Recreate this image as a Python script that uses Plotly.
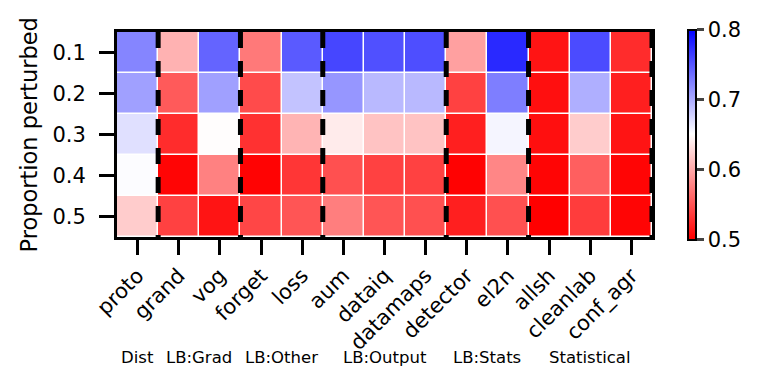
import plotly.graph_objects as go

# methods along x, perturbation proportion along y
methods = ["proto", "grand", "vog", "forget", "loss", "aum", "dataiq", "datamaps",
           "detector", "el2n", "allsh", "cleanlab", "conf_agr"]
proportions = ["0.1", "0.2", "0.3", "0.4", "0.5"]

# method groups and how many methods each covers (in order)
groups = ["Dist", "LB:Grad", "LB:Other", "LB:Output", "LB:Stats", "Statistical"]
group_sizes = [1, 2, 2, 3, 2, 3]

row_01 = [0.722, 0.605, 0.741, 0.571, 0.747, 0.759, 0.753, 0.754, 0.594, 0.776, 0.512, 0.756, 0.526]
row_02 = [0.706, 0.553, 0.706, 0.544, 0.685, 0.712, 0.691, 0.691, 0.538, 0.726, 0.509, 0.697, 0.518]
row_03 = [0.668, 0.526, 0.649, 0.529, 0.606, 0.638, 0.615, 0.615, 0.518, 0.656, 0.509, 0.620, 0.512]
row_04 = [0.652, 0.503, 0.576, 0.502, 0.532, 0.547, 0.538, 0.538, 0.501, 0.579, 0.503, 0.556, 0.503]
row_05 = [0.620, 0.538, 0.512, 0.541, 0.550, 0.574, 0.550, 0.547, 0.518, 0.547, 0.500, 0.535, 0.503]
z = [row_01, row_02, row_03, row_04, row_05]

FONT = "DejaVu Sans"
TICK = 21
bwr_r = [[0.0, "rgb(255,0,0)"], [0.5, "rgb(255,255,255)"], [1.0, "rgb(0,0,255)"]]

fig = go.Figure(go.Heatmap(
    z=z,
    x=list(range(len(methods))),
    y=list(range(len(proportions))),
    colorscale=bwr_r,
    zmin=0.5, zmax=0.8,
    xgap=1.5, ygap=1.5,
    colorbar=dict(
        x=1.067, xanchor="left", y=0.5, yanchor="middle",
        len=1.025, lenmode="fraction", thickness=8, xpad=0, ypad=0,
        outlinecolor="black", outlinewidth=2,
        tickvals=[0.5, 0.6, 0.7, 0.8], ticks="outside", ticklen=7, tickwidth=2.5,
        tickfont=dict(family=FONT, size=TICK, color="black"),
    ),
))

# dashed separators at group boundaries
shapes = []
pos = -0.5
for n in group_sizes:
    pos += n
    shapes.append(dict(type="line", xref="x", yref="paper", x0=pos, x1=pos, y0=1, y1=0,
                       line=dict(color="black", width=5, dash="16px,13px")))

# group labels under the tick labels
annotations = []
start = 0
for g, n in zip(groups, group_sizes):
    annotations.append(dict(x=start + (n - 1) / 2, y=-0.59, xref="x", yref="paper",
                            text=g, showarrow=False, yanchor="middle",
                            font=dict(family=FONT, size=16.5, color="black")))
    start += n

# y-axis title placed as an annotation so it can sit closer to the edge
annotations.append(dict(x=-0.1645, y=0.5, xref="paper", yref="paper",
                        text="Proportion perturbed", textangle=-90, showarrow=False,
                        xanchor="center", yanchor="middle",
                        font=dict(family=FONT, size=22.5, color="black")))

# the page body adds an 8px offset, so the margins are shifted to compensate
fig.update_layout(
    width=762, height=388,
    margin=dict(l=109, r=118, t=24, b=159, autoexpand=False),
    paper_bgcolor="white", plot_bgcolor="white",
    font=dict(family=FONT, color="black"),
    shapes=shapes, annotations=annotations,
    xaxis=dict(
        tickvals=list(range(len(methods))), ticktext=methods, tickangle=-45,
        range=[-0.5, len(methods) - 0.5], automargin=False,
        ticks="outside", ticklen=15, tickwidth=2.5, tickcolor="black",
        ticklabelstandoff=0,
        tickfont=dict(family=FONT, size=TICK, color="black"),
        showline=True, linewidth=3, linecolor="black", mirror=True,
        showgrid=False, zeroline=False,
    ),
    yaxis=dict(
        tickvals=list(range(len(proportions))), ticktext=proportions,
        range=[len(proportions) - 0.5, -0.5], automargin=False,
        ticks="outside", ticklen=15, tickwidth=2.5, tickcolor="black",
        ticklabelstandoff=9,
        tickfont=dict(family=FONT, size=TICK, color="black"),
        showline=True, linewidth=3, linecolor="black", mirror=True,
        showgrid=False, zeroline=False,
    ),
)

fig.write_html("out.html")
